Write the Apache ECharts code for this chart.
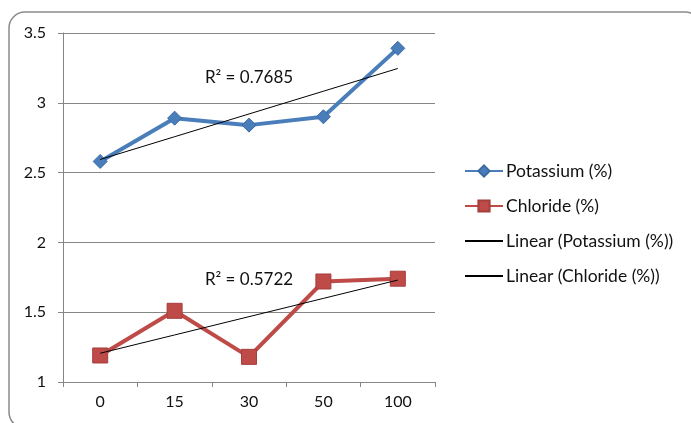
<!DOCTYPE html>
<html>
<head>
<meta charset="utf-8">
<script src="https://cdn.jsdelivr.net/npm/echarts@6/dist/echarts.min.js"></script>
<style>
  html, body { margin: 0; padding: 0; background: #fff; }
  #chart { width: 691px; height: 423px; }
</style>
</head>
<body>
<div id="chart"></div>
<script>
// Concentration levels on the x axis
const categories = ['0', '15', '30', '50', '100'];
// Measured percentages
const potassium = [2.58, 2.89, 2.84, 2.90, 3.39];
const chloride = [1.19, 1.51, 1.18, 1.72, 1.74];
// Coefficients of determination shown beside the trend lines
const r2Labels = ['R² = 0.7685', 'R² = 0.5722'];
// Where each R² label sits (category, value)
const r2LabelPos = [['30', 3.18], ['30', 1.735]];
const seriesNames = ['Potassium (%)', 'Chloride (%)', 'Linear (Potassium (%))', 'Linear (Chloride (%))'];

// Least-squares straight line over category index 1..n, evaluated at each category
function linearFit(values) {
  const n = values.length;
  const xs = values.map((_, i) => i + 1);
  const mx = xs.reduce((a, b) => a + b, 0) / n;
  const my = values.reduce((a, b) => a + b, 0) / n;
  let sxy = 0, sxx = 0;
  for (let i = 0; i < n; i++) {
    sxy += (xs[i] - mx) * (values[i] - my);
    sxx += (xs[i] - mx) * (xs[i] - mx);
  }
  const slope = sxy / sxx;
  const icpt = my - slope * mx;
  return xs.map(x => +(icpt + slope * x).toFixed(4));
}

const FONT = 'Lato';
const FS = 16;
const chart = echarts.init(document.getElementById('chart'), null, { renderer: 'canvas' });

const r2Mark = (idx) => ({
  symbol: 'rect',
  symbolSize: 0,
  silent: true,
  data: [{
    coord: r2LabelPos[idx],
    label: {
      show: true,
      position: 'inside',
      formatter: r2Labels[idx],
      color: '#111',
      fontFamily: FONT,
      fontSize: 17
    }
  }]
});

chart.setOption({
  animation: false,
  backgroundColor: '#ffffff',
  graphic: [{
    type: 'rect',
    shape: { x: 9, y: 12, width: 692, height: 416, r: 16 },
    style: { fill: 'none', stroke: '#8a8a8a', lineWidth: 1.5 },
    silent: true,
    z: -1
  }],
  grid: { left: 63, right: 256, top: 33, bottom: 41, containLabel: false },
  legend: {
    orient: 'vertical',
    left: 464,
    top: 162,
    padding: 0,
    itemWidth: 38,
    itemHeight: 14,
    itemGap: 17,
    textStyle: { fontFamily: FONT, fontSize: 17.5, color: '#111', padding: [0, 0, 0, -2] },
    data: seriesNames
  },
  xAxis: {
    type: 'category',
    data: categories,
    boundaryGap: true,
    axisLine: { lineStyle: { color: '#868686', width: 1 } },
    axisTick: { show: true, length: 5, alignWithLabel: false, lineStyle: { color: '#868686' } },
    axisLabel: { color: '#111', fontFamily: FONT, fontSize: FS, margin: 12 },
    splitLine: { show: false }
  },
  yAxis: {
    type: 'value',
    min: 1,
    max: 3.5,
    interval: 0.5,
    axisLine: { show: true, lineStyle: { color: '#868686', width: 1 } },
    axisTick: { show: true, length: 5, lineStyle: { color: '#868686' } },
    axisLabel: { color: '#111', fontFamily: FONT, fontSize: FS, margin: 17 },
    splitLine: { show: true, lineStyle: { color: '#868686', width: 1 } }
  },
  series: [
    {
      name: seriesNames[0],
      type: 'line',
      data: potassium,
      symbol: 'diamond',
      symbolSize: 14,
      lineStyle: { color: '#4a7ebb', width: 4 },
      itemStyle: { color: '#4a7ebb', borderColor: '#3b6aa3', borderWidth: 1 },
      z: 3
    },
    {
      name: seriesNames[1],
      type: 'line',
      data: chloride,
      symbol: 'rect',
      symbolSize: 15,
      lineStyle: { color: '#be4b48', width: 4 },
      itemStyle: { color: '#be4b48', borderColor: '#a53e3b', borderWidth: 1 },
      z: 3
    },
    {
      name: seriesNames[2],
      type: 'line',
      data: linearFit(potassium),
      symbol: 'circle',
      showSymbol: false,
      lineStyle: { color: '#000', width: 1 },
      itemStyle: { color: '#000', opacity: 0 },
      markPoint: r2Mark(0),
      z: 4
    },
    {
      name: seriesNames[3],
      type: 'line',
      data: linearFit(chloride),
      symbol: 'circle',
      showSymbol: false,
      lineStyle: { color: '#000', width: 1 },
      itemStyle: { color: '#000', opacity: 0 },
      markPoint: r2Mark(1),
      z: 4
    }
  ]
});
</script>
</body>
</html>
